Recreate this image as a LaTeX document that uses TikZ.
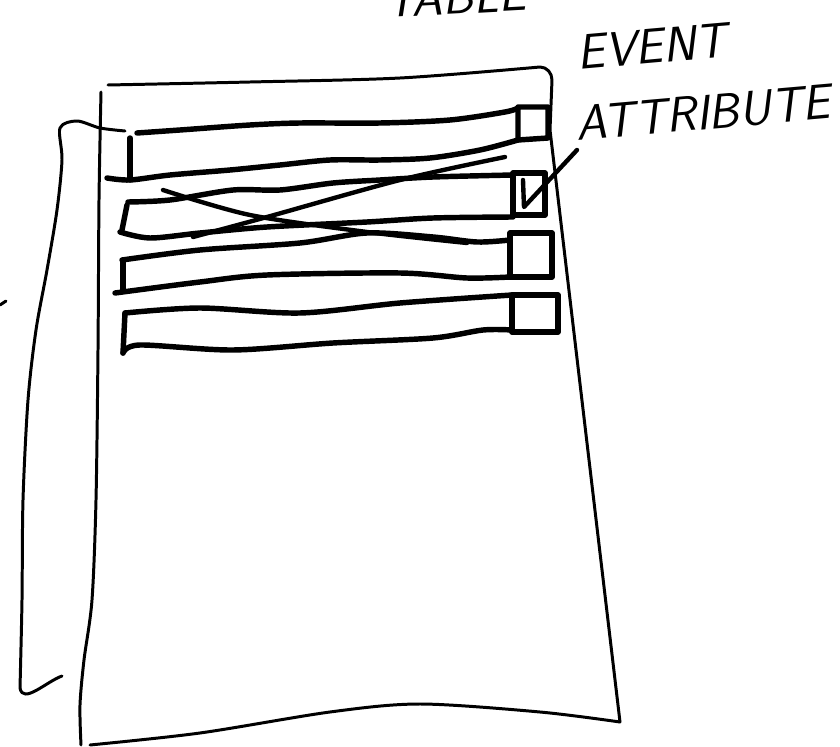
\documentclass[tikz,border=0pt]{standalone}
\usetikzlibrary{positioning}

\begin{document}
\begin{tikzpicture}[
  x=0.02cm, y=-0.02cm,
  sheet/.style={line width=1.7pt, line cap=round, line join=round},
  strip/.style={line width=3.1pt, line cap=round, line join=round},
  scribble/.style={line width=2.5pt, line cap=round, line join=round},
  hand/.style={font=\sffamily\itshape\fontsize{28}{30}\selectfont, inner sep=0pt}
]
\useasboundingbox (0,0) rectangle (840,747);

% ---- the table sheet ----
\draw[sheet] plot[smooth] coordinates {(101,92) (99,200) (98,350) (96,500) (92,600) (84,660) (80,705) (81,745)};
\draw[sheet] plot[smooth] coordinates {(108,85) (250,82) (400,78) (540,67)}
  to[out=0,in=90] (552,80) -- (550,130) -- (620,722);
\draw[sheet] plot[smooth] coordinates {(620,722) (540,712) (420,704) (330,712) (200,733) (90,745)};

% ---- bracket on the left ----
\draw[sheet] plot[smooth] coordinates {(125,131) (100,128) (77,121) (60,128) (62,160) (57,210) (47,270) (36,330) (28,400) (23,500) (22,600) (20,688)}
  to[out=-80,in=200] (62,676);
\draw[sheet] (0,305) -- (6,301);

% ---- rows (E = event strip, A = attribute box) ----
% row 1
\draw[strip] plot[smooth] coordinates {(137,133) (180,130) (250,125) (300,123) (380,123) (450,120) (505,112) (518,108)};
\draw[strip] (130,138) -- (130,180);
\draw[strip] plot[smooth] coordinates {(107,178) (130,180) (170,175) (230,170) (280,165) (330,160) (380,160) (430,158) (480,150) (518,140)};
\draw[strip] (518,107) -- (548,107) -- (548,138) -- (518,140) -- cycle;
% row 2
\draw[strip] plot[smooth] coordinates {(128,202) (170,200) (233,190) (280,190) (333,183) (380,180) (433,177) (513,175)};
\draw[strip] (127,205) -- (122,230);
\draw[strip] plot[smooth] coordinates {(120,232) (150,238) (200,233) (267,227) (367,222) (433,218) (513,217)};
\draw[strip] (513,173) -- (545,173) -- (545,215) -- (513,215) -- cycle;
% row 3
\draw[strip] plot[smooth] coordinates {(122,260) (200,250) (300,243) (367,233) (433,237) (477,242) (510,240)};
\draw[strip] (123,262) -- (123,290);
\draw[strip] plot[smooth] coordinates {(115,293) (200,282) (267,275) (400,273) (467,278) (510,277)};
\draw[strip] (510,233) -- (552,233) -- (552,277) -- (510,277) -- cycle;
% row 4
\draw[strip] plot[smooth] coordinates {(125,313) (200,308) (300,313) (400,303) (512,295)};
\draw[strip] (125,313) -- (123,353);
\draw[strip] plot[smooth] coordinates {(123,353) (140,345) (233,350) (333,343) (433,338) (483,330) (512,330)};
\draw[strip] (512,295) -- (558,295) -- (558,332) -- (512,332) -- cycle;

% ---- crossed-out row ----
\draw[scribble] plot[smooth] coordinates {(163,190) (250,215) (367,232) (467,243)};
\draw[scribble] plot[smooth] coordinates {(193,237) (267,217) (400,180) (505,157)};

% ---- labels ----
\node[hand, rotate=3] (tbl) at (455,-3) {TABLE};
\node[hand, rotate=5] (evt) at (652,46) {EVENT};
\node[hand, rotate=5] (att) at (703,113) {ATTRIBUTE};

% ---- pointer to the attribute box ----
\coordinate (ptr) at (577,150);
\coordinate (ubot) at (524,207);
\draw[scribble] (523,180) -- (ubot) -- (ptr);

\end{tikzpicture}
\end{document}
